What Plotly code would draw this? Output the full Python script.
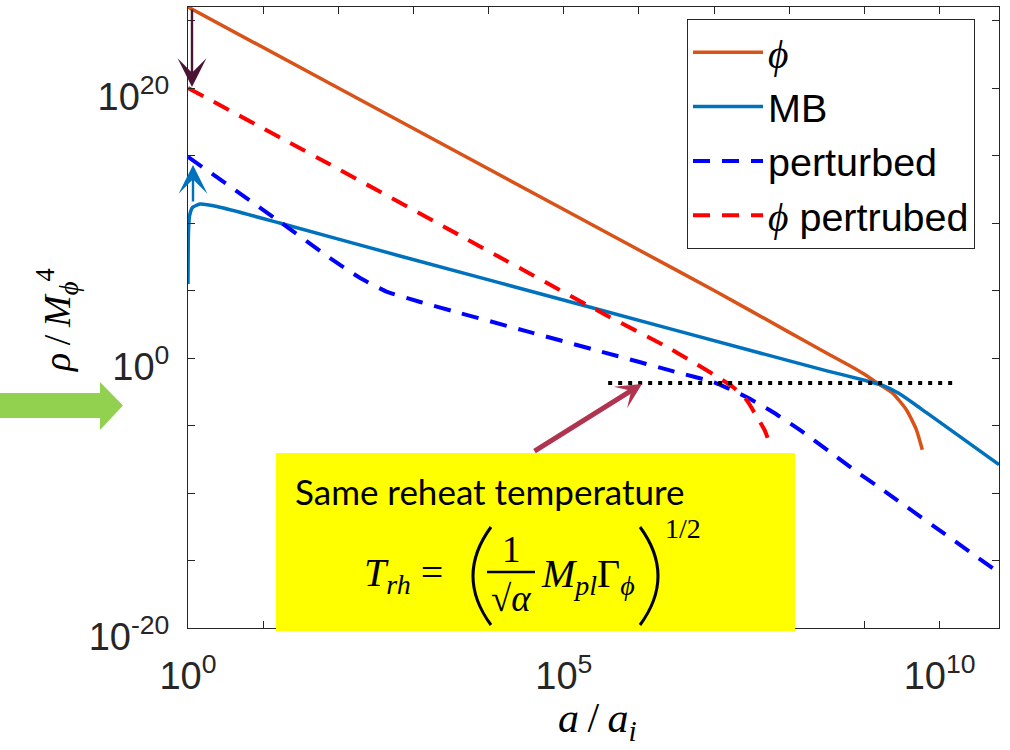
import numpy as np
import plotly.graph_objects as go

# log10(a/a_i) and log10(rho/M_phi^4) for each curve
phi_loga = [0.0, 2.0, 4.0, 6.0, 7.0, 8.0, 8.5, 8.8, 9.0, 9.17, 9.375, 9.56, 9.69, 9.77]
phi_logrho = [26.0, 20.0, 14.0, 8.0, 5.0, 1.9, 0.35, -0.55, -1.2, -1.85, -2.6, -3.85, -5.3, -6.8]

mb_loga = [0.0, 0.002, 0.006, 0.02, 0.06, 0.16, 0.4, 1.22, 2.82, 5.39, 7.61, 8.5, 9.0, 9.25,
           9.45, 9.65, 9.83, 10.79]
mb_logrho = [5.48, 7.5, 9.3, 10.5, 11.15, 11.4, 11.2, 10.0, 7.56, 3.7, 0.37, -0.95, -1.65,
             -2.05, -2.6, -3.35, -4.07, -7.9]

pert_loga = [0.0, 1.22, 1.89, 2.29, 2.65, 3.09, 3.52, 4.5, 5.5, 6.5, 7.0, 7.43, 7.78, 8.14,
             8.54, 8.9, 9.2, 10.79]
pert_logrho = [14.9, 10.1, 7.4, 5.93, 4.9, 4.15, 3.48, 1.99, 0.47, -1.05, -1.8, -2.89, -4.0,
               -5.33, -6.96, -8.44, -9.6, -15.9]

phipert_loga = [0.0, 2.0, 3.71, 5.57, 6.32, 6.72, 7.11, 7.25, 7.43, 7.57, 7.67, 7.75]
phipert_logrho = [20.0, 14.0, 8.8, 3.15, 0.98, -0.3, -1.63, -2.15, -3.1, -4.37, -5.33, -6.5]

# reheating level
trh_loga = [5.59, 10.17]
trh_logrho = [-1.85, -1.85]

x_tick_exp = list(range(0, 11))
x_tick_labeled = [0, 5, 10]
y_tick_exp = list(range(-20, 26, 5))
y_tick_labeled = [-20, 0, 20]

TICK_FONT = dict(family="Liberation Sans, Arial, sans-serif", size=38, color="#262626")
MATH = "Liberation Serif, Times New Roman, serif"
PHI = "<span style='font-family:Liberation Serif'><i>ϕ</i></span>"
THIN = "\u2009"


def pw(v):
    return [10.0 ** e for e in v]


fig = go.Figure()
fig.add_trace(go.Scatter(x=pw(phi_loga), y=pw(phi_logrho), mode="lines", name=PHI,
                         line=dict(color="#D95319", width=3.5, shape="spline", smoothing=0.5)))
fig.add_trace(go.Scatter(x=pw(mb_loga), y=pw(mb_logrho), mode="lines", name="MB",
                         line=dict(color="#0072BD", width=3.5, shape="spline", smoothing=0.5)))
fig.add_trace(go.Scatter(x=pw(pert_loga), y=pw(pert_logrho), mode="lines", name="perturbed",
                         line=dict(color="#0000FF", width=4, dash="17px,12px",
                                   shape="spline", smoothing=0.5)))
fig.add_trace(go.Scatter(x=pw(phipert_loga), y=pw(phipert_logrho), mode="lines",
                         name=PHI + "\u00a0pertrubed",
                         line=dict(color="#FF0000", width=4, dash="17px,12px",
                                   shape="spline", smoothing=0.5)))
fig.add_trace(go.Scatter(x=pw(trh_loga), y=pw(trh_logrho), mode="lines", showlegend=False,
                         line=dict(color="black", width=4, dash="4px,6px")))

L, R, T, B = 188, 999, 7, 628


def px(x):
    return (x - L) / (R - L)


def py(y):
    return (B - y) / (B - T)


def xlab(e):
    return f"10<sup>{e}</sup>" if e in x_tick_labeled else ""


def ylab(e):
    return f"10<sup>{e}</sup>" if e in y_tick_labeled else ""


axis_common = dict(type="log", showgrid=False, zeroline=False, showline=True, linecolor="#262626",
                   linewidth=1, mirror="ticks", ticks="inside", ticklen=7, tickcolor="#262626",
                   tickfont=TICK_FONT, tickmode="array")

fig.update_xaxes(range=[0, 10.79], tickvals=pw(x_tick_exp), ticktext=[xlab(e) for e in x_tick_exp],
                 ticklabelstandoff=14, **axis_common)
fig.update_yaxes(range=[-20, 26], tickvals=pw(y_tick_exp), ticktext=[ylab(e) for e in y_tick_exp],
                 ticklabelstandoff=10, ticklabelshift=9, **axis_common)

shapes = []
# yellow note box
shapes.append(dict(type="rect", xref="paper", yref="paper", x0=px(276), x1=px(795),
                   y0=py(631), y1=py(453), fillcolor="#FFFF00", line=dict(width=0), layer="above"))
# fraction bar inside the formula
shapes.append(dict(type="line", xref="paper", yref="paper", x0=px(487), x1=px(535),
                   y0=py(572), y1=py(572), line=dict(color="black", width=2.5), layer="above"))


def curve(p0, c, p1):
    return (f"M {px(p0[0]):.5f},{py(p0[1]):.5f} Q {px(c[0]):.5f},{py(c[1]):.5f} "
            f"{px(p1[0]):.5f},{py(p1[1]):.5f}")


# large parentheses around the formula
for p0, c, p1 in [((491, 527), (455, 576), (491, 625)), ((640, 527), (676, 576), (640, 625))]:
    shapes.append(dict(type="path", xref="paper", yref="paper", path=curve(p0, c, p1),
                       line=dict(color="black", width=3), layer="above"))

# big green arrow at the left
gpts = [(0, 393), (100, 393), (100, 382), (123, 405.5), (100, 430), (100, 418), (0, 418)]
path = "M " + " L ".join(f"{px(a):.5f},{py(b):.5f}" for a, b in gpts) + " Z"
shapes.append(dict(type="path", xref="paper", yref="paper", path=path, fillcolor="#92D050",
                   line=dict(width=0), layer="above"))

ann = []


def arrow(tip, tail, color, width, size):
    ann.append(dict(xref="paper", yref="paper", x=px(tip[0]), y=py(tip[1]), ax=tail[0] - tip[0],
                    ay=tail[1] - tip[1], text="", showarrow=True, arrowhead=3, arrowsize=size,
                    arrowwidth=width, arrowcolor=color, standoff=0))


arrow((192, 87), (192, 8), "#4A1535", 2.4, 2.0)
arrow((193, 165), (193, 203), "#0072BD", 2.4, 2.0)
arrow((642, 384), (533, 452), "#B0344F", 5, 0.85)


def text(t, x, y, size, family=MATH, xanchor="left", yanchor="middle", angle=0):
    ann.append(dict(xref="paper", yref="paper", x=px(x), y=py(y), text=t, showarrow=False,
                    xanchor=xanchor, yanchor=yanchor, textangle=angle,
                    font=dict(family=family, size=size, color="black")))


text("Same reheat temperature", 293, 491, 35, family="Lato, Open Sans, sans-serif")
text("<i>T</i><sub><i>rh</i></sub> =", 362, 575, 40)
text("1", 511, 549, 37, xanchor="center")
text("√<i>α</i>", 511, 598, 37, xanchor="center")
text("<i>M</i><sub><i>pl</i></sub>Γ<sub><i>ϕ</i></sub>", 539, 576, 40)
text("1/2", 663, 528, 28)

# axis titles
text(f"<i>a</i>{THIN}/{THIN}<i>a</i><sub><i>i</i></sub>", 597, 721, 42, xanchor="center")
text(f"<i>ρ</i>{THIN}/{THIN}<i>M</i><sub><i>ϕ</i></sub><sup>4</sup>", 57, 320, 38,
     xanchor="center", angle=-90)

fig.update_layout(
    width=1010, height=750,
    margin=dict(l=L, r=1010 - R, t=T, b=750 - B),
    paper_bgcolor="white", plot_bgcolor="white",
    shapes=shapes, annotations=ann,
    legend=dict(x=px(687), y=py(19), xanchor="left", yanchor="top", bgcolor="white",
                bordercolor="#262626", borderwidth=1, itemwidth=70,
                font=dict(family="Liberation Sans, Arial, sans-serif", size=39.5, color="black")),
)

fig.write_html("out.html")
